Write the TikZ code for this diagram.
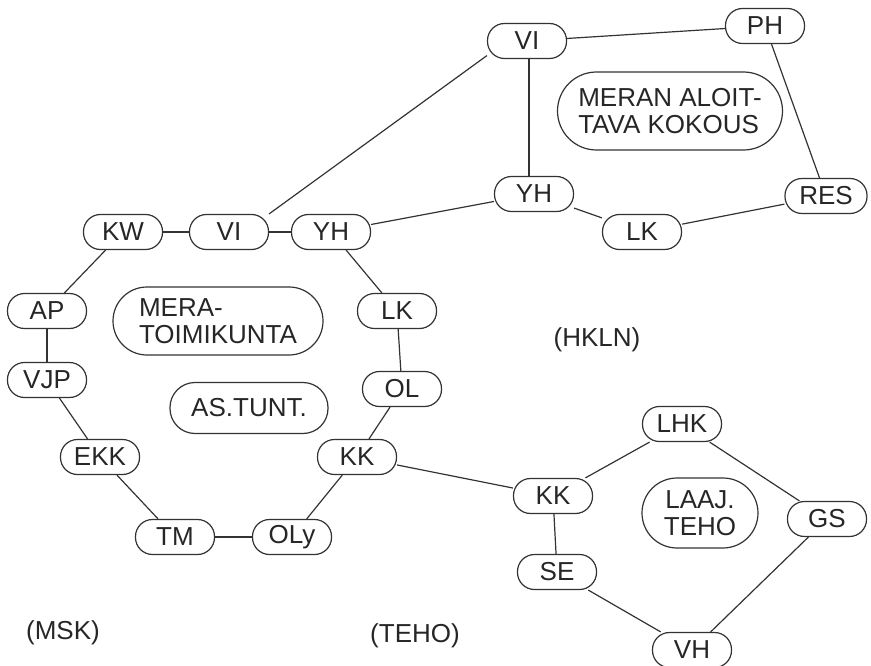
\documentclass[tikz,border=0pt]{standalone}
\usepackage{fontspec}
\setmainfont{Liberation Sans}
\begin{document}
\begin{tikzpicture}[x=1pt,y=-1pt,
  every node/.style={font=\fontsize{26}{27}\selectfont, text=black!85},
  box/.style={draw=black!80, line width=1.2pt, rounded corners=17pt, minimum width=79pt, minimum height=35pt, inner sep=0pt},
  bigbox/.style={draw=black!80, line width=1.2pt, inner sep=0pt},
  link/.style={draw=black!80, line width=1.2pt},
  plain/.style={inner sep=0pt}]
\useasboundingbox (0,0) rectangle (871,666);
% left ring
\node[box] (KW) at (123,232) {KW};
\node[box] (VIl) at (229,232) {VI};
\node[box] (YHl) at (331,232) {YH};
\node[box] (AP) at (47,311) {AP};
\node[box] (VJP) at (47,380) {VJP};
\node[box] (EKK) at (100,457) {EKK};
\node[box] (TM) at (175,537) {TM};
\node[box] (OLy) at (292,537) {OLy};
\node[box] (KKl) at (357,457) {KK};
\node[box] (OL) at (402,389) {OL};
\node[box] (LKl) at (397,311) {LK};
\node[bigbox, rounded corners=34pt, minimum width=210pt, minimum height=68pt, align=left] (MERA) at (218,321) {MERA-\\TOIMIKUNTA};
\node[bigbox, rounded corners=25pt, minimum width=158pt, minimum height=51pt] (AST) at (249,408) {AS.TUNT.};
% top right ring
\node[box] (VIt) at (527,41) {VI};
\node[box] (PH) at (765,26) {PH};
\node[bigbox, rounded corners=39pt, minimum width=225pt, minimum height=78pt, align=left] (MERAN) at (670,111) {MERAN ALOIT-\\TAVA KOKOUS};
\node[box] (YHr) at (534,194) {YH};
\node[box, minimum width=82pt] (RES) at (826,196) {RES};
\node[box] (LKr) at (642,232) {LK};
% bottom right ring
\node[box] (LHK) at (682,424) {LHK};
\node[box] (KKr) at (553,496) {KK};
\node[bigbox, rounded corners=35pt, minimum width=116pt, minimum height=70pt, align=center] (LAAJ) at (700,513) {LAAJ.\\TEHO};
\node[box] (GS) at (827,519) {GS};
\node[box] (SE) at (557,572) {SE};
\node[box] (VH) at (692,650) {VH};
% labels
\node[plain] (HKLN) at (597,340) {(HKLN)};
\node[plain] (MSK) at (63,633) {(MSK)};
\node[plain] (TEHO) at (415,636) {(TEHO)};
% connectors
\draw[link] (KW) -- (VIl);
\draw[link] (VIl) -- (YHl);
\draw[link] (KW) -- (AP);
\draw[link] (AP) -- (VJP);
\draw[link] (VJP) -- (EKK);
\draw[link] (EKK) -- (TM);
\draw[link] (TM) -- (OLy);
\draw[link] (OLy) -- (KKl);
\draw[link] (KKl) -- (OL);
\draw[link] (OL) -- (LKl);
\draw[link] (LKl) -- (YHl);
\draw[link] (VIl.north east) -- (VIt.200);
\draw[link] (YHl) -- (YHr);
\draw[link] ([xshift=2pt]VIt.south) -- ([xshift=2pt]VIt.south |- YHr.north);
\draw[link] (VIt) -- (PH);
\draw[link] (PH) -- (RES);
\draw[link] (RES) -- (LKr);
\draw[link] (LKr) -- (YHr);
\draw[link] (KKl) -- (KKr);
\draw[link] (KKr) -- (LHK);
\draw[link] (LHK) -- (GS);
\draw[link] (GS) -- (VH);
\draw[link] (VH) -- (SE);
\draw[link] (SE) -- (KKr);
\end{tikzpicture}
\end{document}
